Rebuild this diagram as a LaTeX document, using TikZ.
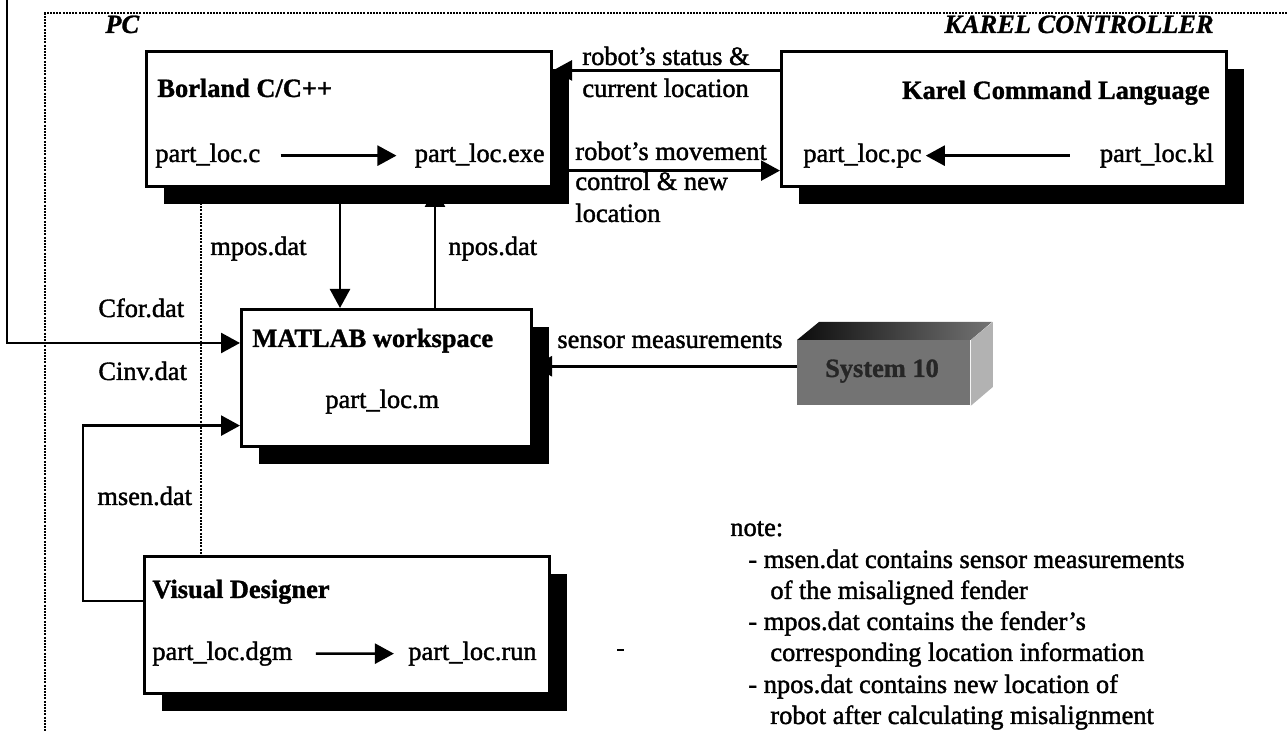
\documentclass[tikz,border=0pt]{standalone}
\usepackage{fontspec}
\setmainfont{Liberation Serif}
\usetikzlibrary{arrows.meta,shadows,calc}
\begin{document}
\begin{tikzpicture}[x=0.5pt,y=-0.5pt,
  txt/.style={font=\fontsize{13.2}{15.6}\selectfont\addfontfeatures{FakeBold=1.5}, inner sep=0pt, anchor=base west},
  bold/.style={txt, font=\fontsize{13.2}{15.6}\selectfont\bfseries\addfontfeatures{FakeBold=1.2}},
  bital/.style={txt, font=\fontsize{13.2}{15.6}\selectfont\bfseries\itshape\addfontfeatures{FakeBold=1}},
  box/.style={draw, line width=1.5pt, fill=white, inner sep=0pt, anchor=north west,
    drop shadow={shadow xshift=8.5pt, shadow yshift=-9pt, opacity=1, fill=black}},
  conn/.style={line width=1.3pt},
  arr/.style={conn, -{Triangle[length=9.5pt,width=10pt]}},
  dotframe/.style={line width=1.3pt, dash pattern=on 1pt off 0.6pt},
]
\useasboundingbox (0,0) rectangle (1287,731);
\fill[white] (0,0) rectangle (1287,731);

% dotted frame
\coordinate (frTR) at (1287,13);
\coordinate (frTL) at (45,13);
\coordinate (frBL) at (45,731);
\draw[dotframe] (frTR) -- (frTL) -- (frBL);
\coordinate (dxA) at (201,203);
\coordinate (dxB) at (201,555);
\draw[dotframe] (dxA) -- (dxB);

% boxes
\node[box, minimum width=202.5pt, minimum height=67.5pt] (borland) at (145,50) {};
\node[box, minimum width=222.5pt, minimum height=67.5pt] (karel) at (780,50) {};
\node[box, minimum width=145pt, minimum height=68.5pt] (matlab) at (240,308) {};
\node[box, minimum width=202.5pt, minimum height=68.5pt] (vd) at (143,555) {};

% region titles
\node[bital] (pc) at (105,33) {PC};
\node[bital, anchor=base east] (kc) at (1214,33) {KAREL CONTROLLER};

% box contents
\node[bold] (bt) at (157,97) {Borland C/C++};
\node[txt] (pcc) at (155,162) {part\_loc.c};
\node[txt, anchor=base east] (pexe) at (545,162) {part\_loc.exe};
\draw[arr] ([xshift=10pt]pcc.east) -- ([xshift=-9pt]pexe.west);

\node[bold, anchor=base east] (kt) at (1210,99) {Karel Command Language};
\node[txt] (ppc) at (803,162) {part\_loc.pc};
\node[txt, anchor=base east] (pkl) at (1214,162) {part\_loc.kl};
\draw[arr] ([xshift=-15pt]pkl.west) -- ([xshift=2pt]ppc.east);

\node[bold] (mt) at (252,347) {MATLAB workspace};
\node[txt] (pm) at (325,408) {part\_loc.m};

\node[bold] (vt) at (152,598) {Visual Designer};
\node[txt] (pdgm) at (152,660) {part\_loc.dgm};
\node[txt, anchor=base east] (prun) at (537,660) {part\_loc.run};
\draw[arr] ([xshift=11.5pt]pdgm.east) -- ([xshift=-7pt]prun.west);

% System 10 block
\node[anchor=north west, minimum width=86.5pt, minimum height=32.5pt, inner sep=0pt, fill=black!55] (sys) at (797,340) {};
\shade[left color=black!95, right color=black!55] (sys.north west) -- ++(22,-18) -- ++(173,0) -- (sys.north east) -- cycle;
\fill[black!30] (sys.north east) -- ++(22,-18) -- ++(0,65) -- (sys.south east) -- cycle;
\node[bold, anchor=base, text=black!85] (syst) at (882,377) {System 10};

% connectors
\coordinate (topin) at (7,0);
\draw[arr] (topin) |- ($(matlab.north west)!0.25!(matlab.south west)$);
\draw[arr] ($(vd.north west)!0.33!(vd.south west)$) -- ++(-60,0) |- ($(matlab.north west)!0.84!(matlab.south west)$);
\coordinate (mx) at (340,0);
\coordinate (nx) at (435,0);
\draw[arr] (borland.south -| mx) -- (matlab.north -| mx);
\draw[arr] (matlab.north -| nx) -- (borland.south -| nx);
\draw[arr] ($(karel.north west)!0.148!(karel.south west)$) -- ($(borland.north east)!0.148!(borland.south east)$);
\draw[arr] ($(borland.north east)!0.874!(borland.south east)$) -- ($(karel.north west)!0.874!(karel.south west)$);
\coordinate (mlS) at ($(matlab.north east)!0.416!(matlab.south east)$);
\draw[arr] (sys.west |- mlS) -- (mlS);

% connector labels
\node[txt] (l1) at (582,65) {robot’s status \&};
\node[txt] (l2) at (582,97) {current location};
\node[txt] (l3) at (575,160) {robot’s movement};
\node[txt] (l4) at (575,190) {control \& new};
\node[txt] (l5) at (575,222) {location};
\node[txt] (lm) at (210,255) {mpos.dat};
\node[txt] (ln) at (448,255) {npos.dat};
\node[txt] (lcf) at (98,317) {Cfor.dat};
\node[txt] (lci) at (98,380) {Cinv.dat};
\node[txt] (lms) at (97,505) {msen.dat};
\node[txt] (lsm) at (557,348) {sensor measurements};

% stray mark
\draw[line width=1.3pt] (617,650) -- (624,650);

% note
\node[txt] (n0) at (730,536) {note:};
\node[txt] (n1) at (748,568) {- msen.dat contains sensor measurements};
\node[txt] (n2) at (770,599) {of the misaligned fender};
\node[txt] (n3) at (748,630) {- mpos.dat contains the fender’s};
\node[txt] (n4) at (770,661) {corresponding location information};
\node[txt] (n5) at (748,693) {- npos.dat contains new location of};
\node[txt] (n6) at (770,724) {robot after calculating misalignment};
\end{tikzpicture}
\end{document}
